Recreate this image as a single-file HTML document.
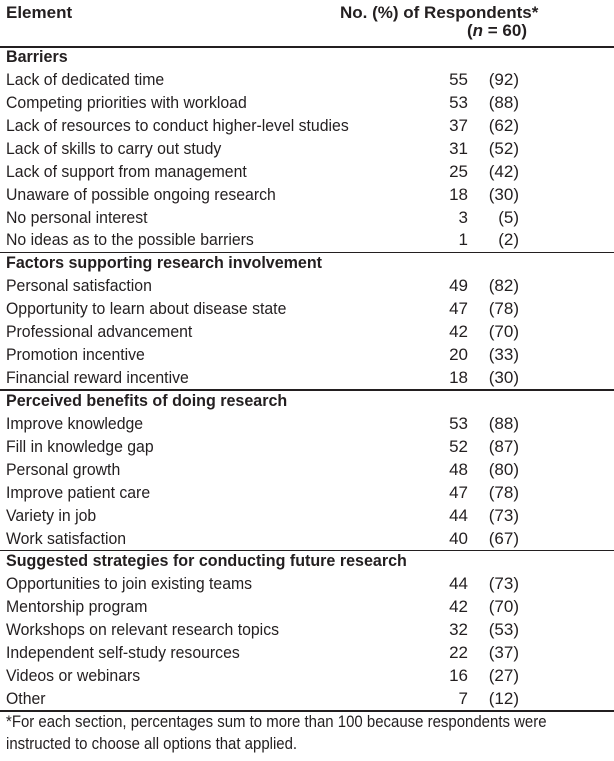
<!DOCTYPE html>
<html><head><style>
body{margin:0;width:614px;height:761px;background:#fff;position:relative;font-family:"Liberation Sans",sans-serif;font-size:17px;color:#231f20;overflow:hidden}
.r{position:absolute;left:6px;height:22px;line-height:22px;white-space:nowrap;transform-origin:0 50%}
.t{transform:scaleX(0.93)}
.s{font-weight:bold;transform:scaleX(0.945)}
.f{transform:scaleX(0.88)}
.b{font-weight:bold}
.n{position:absolute;width:40px;text-align:right;left:428px}
.p{position:absolute;width:50px;text-align:right;left:469px}
.l{position:absolute;left:0;width:614px;height:1.5px;background:#231f20}
</style></head><body>
<div class="r b" style="top:2px">Element</div>
<div class="r b" style="top:2px;left:340px">No. (%) of Respondents*</div>
<div class="r b" style="top:20px;left:467px">(<i>n</i> = 60)</div>
<div class="l" style="top:46px"></div>
<div id="rows"></div>
<script>
const secs=[["Barriers",[["Lack of dedicated time",55,92],["Competing priorities with workload",53,88],["Lack of resources to conduct higher-level studies",37,62],["Lack of skills to carry out study",31,52],["Lack of support from management",25,42],["Unaware of possible ongoing research",18,30],["No personal interest",3,5],["No ideas as to the possible barriers",1,2]]],
["Factors supporting research involvement",[["Personal satisfaction",49,82],["Opportunity to learn about disease state",47,78],["Professional advancement",42,70],["Promotion incentive",20,33],["Financial reward incentive",18,30]]],
["Perceived benefits of doing research",[["Improve knowledge",53,88],["Fill in knowledge gap",52,87],["Personal growth",48,80],["Improve patient care",47,78],["Variety in job",44,73],["Work satisfaction",40,67]]],
["Suggested strategies for conducting future research",[["Opportunities to join existing teams",44,73],["Mentorship program",42,70],["Workshops on relevant research topics",32,53],["Independent self-study resources",22,37],["Videos or webinars",16,27],["Other",7,12]]]];
let y=46,h="",H=22.93;
secs.forEach((s,i)=>{h+=`<div class="r s" style="top:${y}px">${s[0]}</div>`;y+=H;
s[1].forEach(r=>{h+=`<div class="r t" style="top:${y}px">${r[0]}</div><div class="r n" style="top:${y}px">${r[1]}</div><div class="r p" style="top:${y}px">(${r[2]})</div>`;y+=H;});
h+=`<div class="l" style="top:${y-0.5}px"></div>`;});
h+=`<div class="r f" style="top:${y}px">*For each section, percentages sum to more than 100 because respondents were</div><div class="r f" style="top:${y+22}px">instructed to choose all options that applied.</div>`;
document.getElementById("rows").innerHTML=h;
</script>
</body></html>
